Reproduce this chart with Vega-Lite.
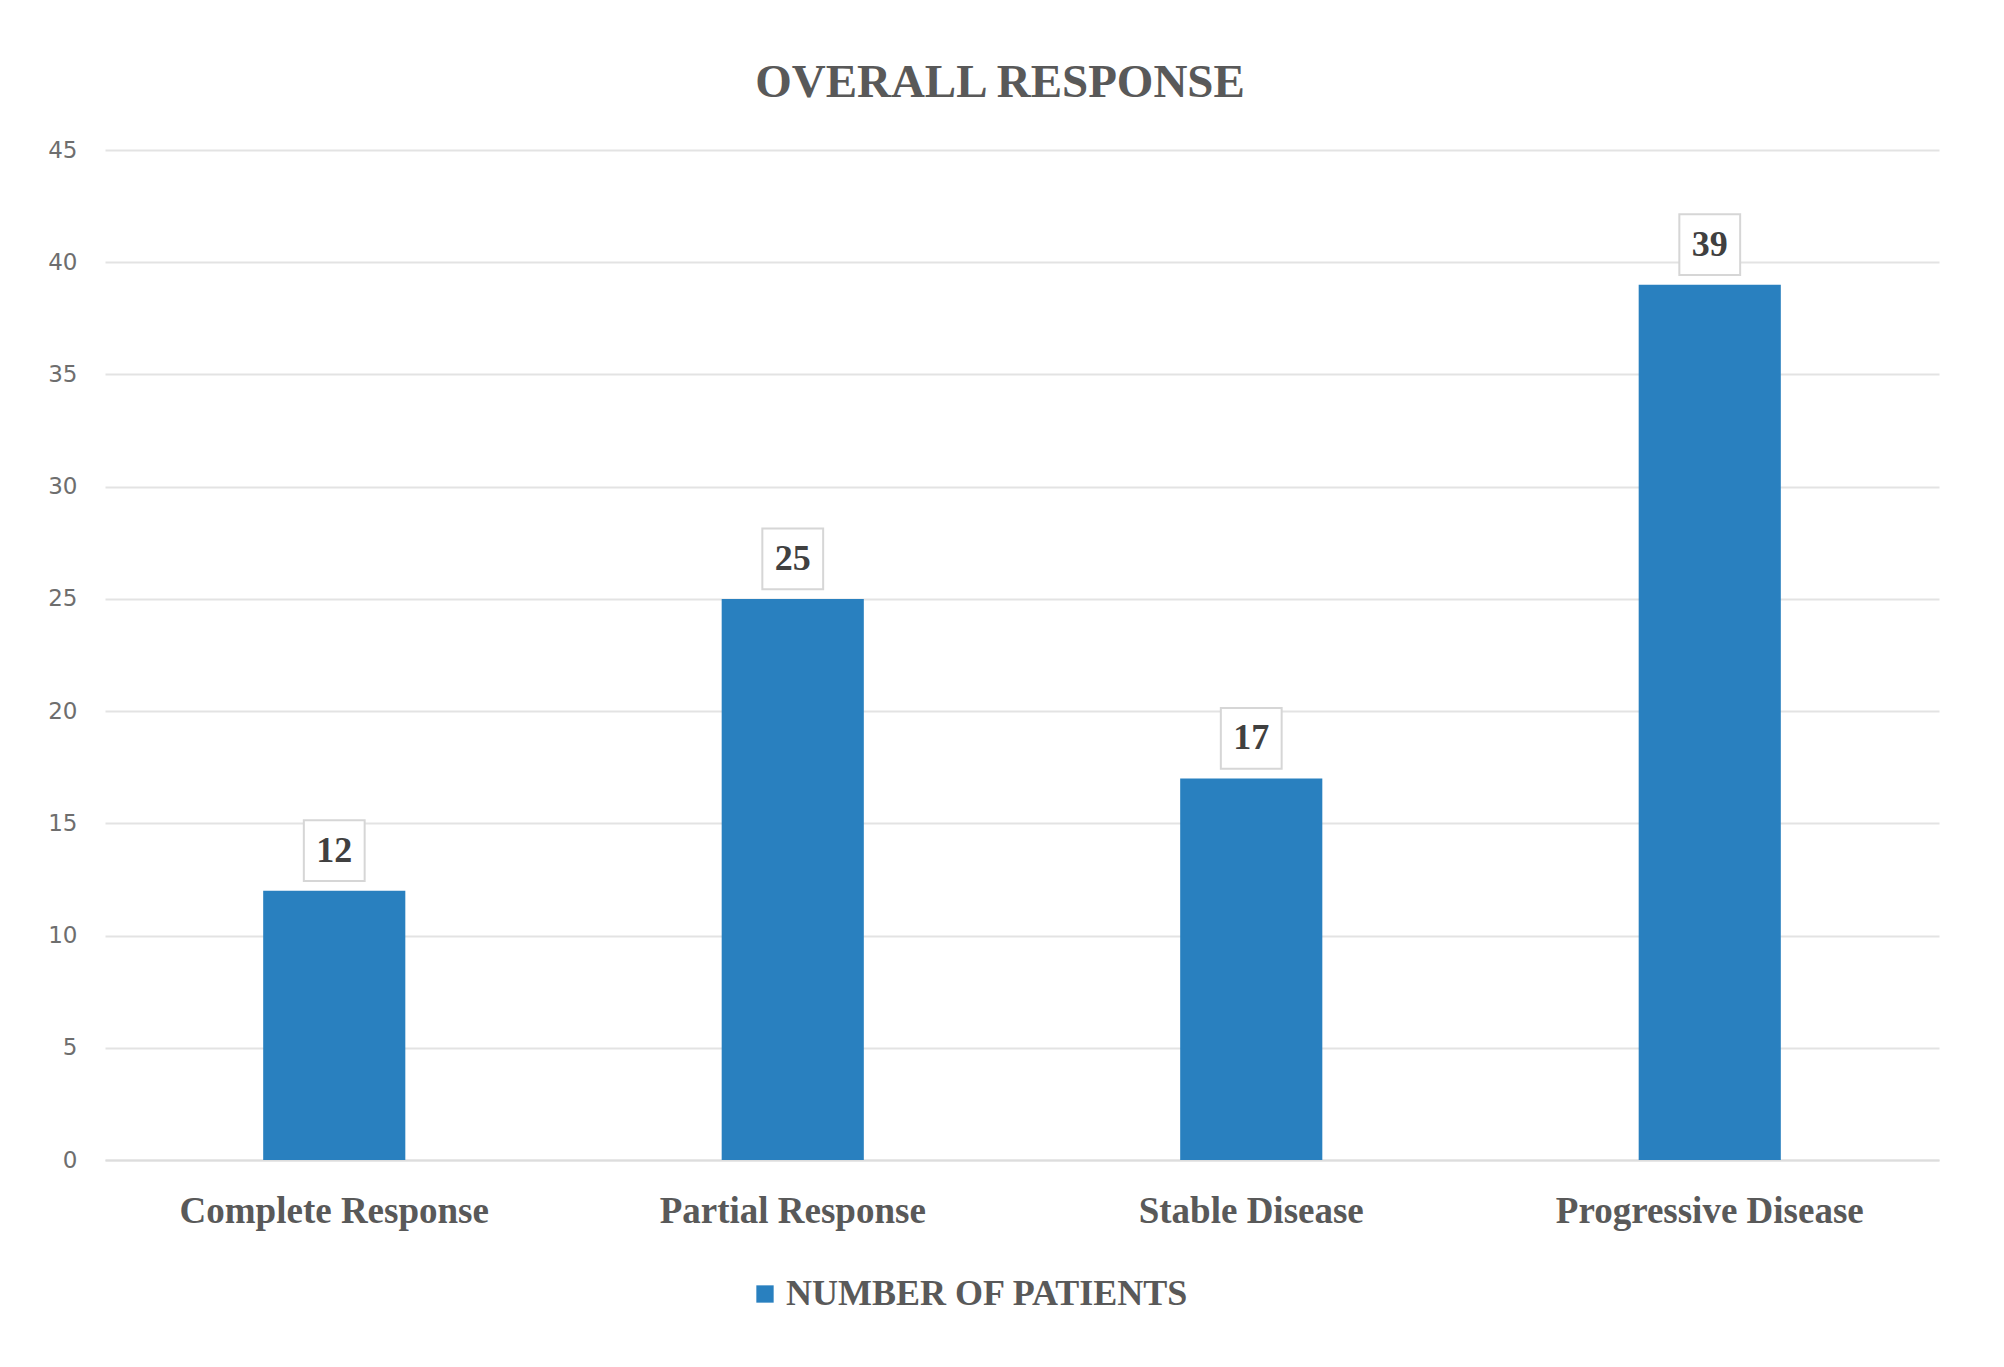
{
  "$schema": "https://vega.github.io/schema/vega-lite/v6.json",
  "width": 1834,
  "height": 1010,
  "autosize": {"type": "none"},
  "padding": {"left": 105, "top": 150, "right": 65, "bottom": 207},
  "background": "white",
  "config": {"view": {"stroke": null}},
  "title": {
    "text": "OVERALL RESPONSE",
    "font": "Liberation Serif",
    "fontSize": 47,
    "fontWeight": "bold",
    "color": "#595959",
    "anchor": "middle",
    "dx": -22,
    "offset": 32
  },
  "data": {
    "values": [
      {"category": "Complete Response", "patients": 12, "series": "NUMBER OF PATIENTS"},
      {"category": "Partial Response", "patients": 25, "series": "NUMBER OF PATIENTS"},
      {"category": "Stable Disease", "patients": 17, "series": "NUMBER OF PATIENTS"},
      {"category": "Progressive Disease", "patients": 39, "series": "NUMBER OF PATIENTS"}
    ]
  },
  "encoding": {
    "x": {
      "field": "category",
      "type": "nominal",
      "sort": null,
      "scale": {"paddingInner": 0.69, "paddingOuter": 0.345},
      "axis": {
        "title": null,
        "labelAngle": 0,
        "labelFont": "Liberation Serif",
        "labelFontSize": 37,
        "labelFontWeight": "bold",
        "labelColor": "#595959",
        "labelPadding": 33,
        "labelLimit": 0,
        "ticks": false,
        "domain": true,
        "domainColor": "#DDDDDD",
        "domainWidth": 2
      }
    },
    "y": {
      "field": "patients",
      "type": "quantitative",
      "scale": {"domain": [0, 45], "nice": false},
      "axis": {
        "title": null,
        "values": [0, 5, 10, 15, 20, 25, 30, 35, 40, 45],
        "labelFont": "DejaVu Sans",
        "labelFontSize": 23,
        "labelColor": "#6E6E6E",
        "labelPadding": 28,
        "ticks": false,
        "domain": false,
        "grid": true,
        "gridColor": "#E3E3E3",
        "gridWidth": 2
      }
    }
  },
  "layer": [
    {
      "mark": {"type": "bar"},
      "encoding": {
        "color": {
          "field": "series",
          "type": "nominal",
          "scale": {"range": ["#2980BF"]},
          "legend": {
            "title": null,
            "orient": "none",
            "legendX": 642,
            "legendY": 1126,
            "symbolType": "square",
            "symbolSize": 300,
            "symbolStrokeWidth": 0,
            "labelFont": "Liberation Serif",
            "labelFontSize": 36,
            "labelFontWeight": "bold",
            "labelColor": "#595959",
            "labelOffset": 3,
            "labelLimit": 700
          }
        }
      }
    },
    {
      "mark": {"type": "point", "shape": "square", "size": 3700, "filled": false, "fill": "white", "fillOpacity": 1, "stroke": "#D6D6D6", "strokeWidth": 2, "opacity": 1, "yOffset": -40}
    },
    {
      "mark": {"type": "text", "font": "Liberation Serif", "fontSize": 36, "fontWeight": "bold", "color": "#404040", "baseline": "middle", "dy": -40},
      "encoding": {"text": {"field": "patients", "type": "quantitative"}}
    }
  ]
}
